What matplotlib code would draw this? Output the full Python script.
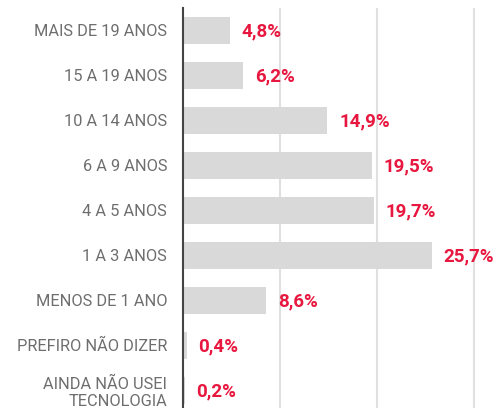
import numpy as np
import matplotlib.pyplot as plt

plt.rcParams['font.family'] = ['Roboto', 'DejaVu Sans']

# dados
categorias = ['MAIS DE 19 ANOS', '15 A 19 ANOS', '10 A 14 ANOS', '6 A 9 ANOS',
              '4 A 5 ANOS', '1 A 3 ANOS', 'MENOS DE 1 ANO', 'PREFIRO NÃO DIZER',
              'AINDA NÃO USEI\nTECNOLOGIA']
valores = [4.8, 6.2, 14.9, 19.5, 19.7, 25.7, 8.6, 0.4, 0.2]
rotulos = ['4,8%', '6,2%', '14,9%', '19,5%', '19,7%', '25,7%', '8,6%', '0,4%', '0,2%']

fig = plt.figure(figsize=(4.96, 4.08), dpi=100)
ax = fig.add_axes([183/496, 0, 1 - 183/496, 400/408])

y = np.arange(len(categorias))
ax.barh(y, valores, height=0.6, color='#d9d9d9', zorder=2)

# rotulos de valor
for yi, v, r in zip(y, valores, rotulos):
    ax.text(v + 1.2, yi + 0.03, r, va='center', ha='left', color='#e8173f',
            fontsize=13.5, fontweight='bold')

ax.set_xlim(0, 32.3)
ax.set_ylim(8.4, -0.49)
ax.set_yticks(y)
ax.set_yticklabels(categorias, fontsize=11.8, color='#6e6e6e', linespacing=1.2)
ax.tick_params(axis='y', length=0, pad=11.5)
ax.set_xticks([10, 20, 30])
ax.tick_params(axis='x', length=0, labelbottom=False)
ax.grid(axis='x', color='#e0e0e0', linewidth=1.5, zorder=0)
for s in ['top', 'right', 'bottom']:
    ax.spines[s].set_visible(False)
ax.spines['left'].set_color('#444444')
ax.spines['left'].set_linewidth(1.5)
ax.spines['left'].set_zorder(3)

plt.savefig('out.png', dpi=100)
